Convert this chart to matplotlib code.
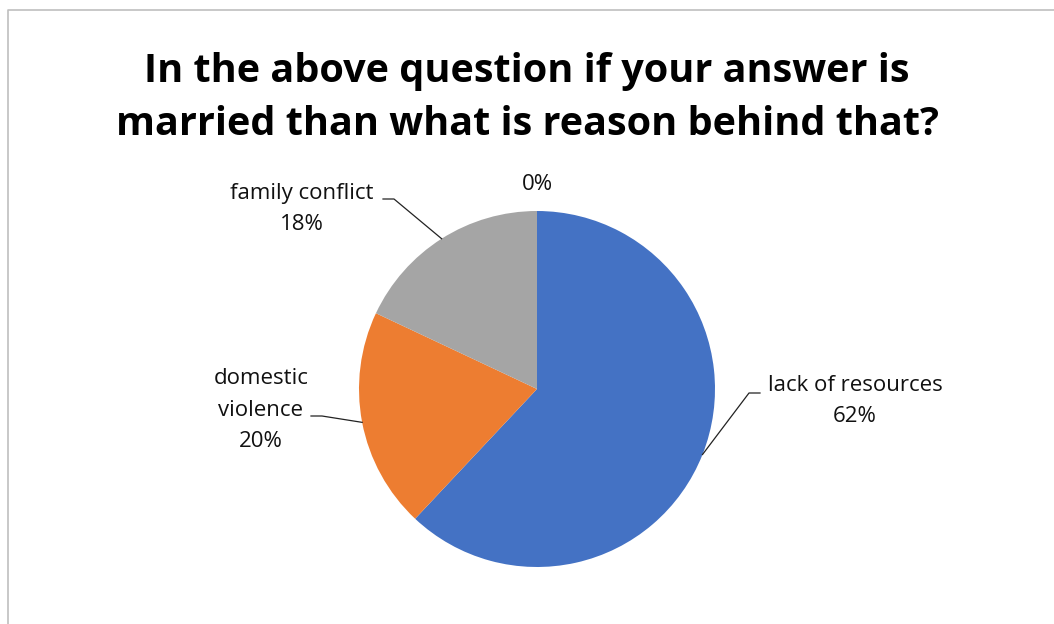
import numpy as np
import matplotlib.pyplot as plt

# Reasons for marriage (share of responses)
labels = ['lack of resources', 'domestic\nviolence', 'family conflict', '']
shares = [62, 20, 18, 0]
colors = ['#4472C4', '#ED7D31', '#A5A5A5', '#FFC000']

title = 'In the above question if your answer is\nmarried than what is reason behind that?'

W, H = 1054, 624
fig = plt.figure(figsize=(W / 100, H / 100), dpi=100)
ax = fig.add_axes([0, 0, 1, 1])
ax.axis('off')

plt.rcParams['font.family'] = ['Open Sans', 'DejaVu Sans']

# chart area border (left and top edges visible)
ax.plot([8, 8, W + 5], [-5, H - 10, H - 10], color='#BFBFBF', lw=1.2)

cx, cy, r = 537, H - 389, 178
wedges, _ = ax.pie(shares, colors=colors, startangle=90, counterclock=False,
                   center=(cx, cy), radius=r, wedgeprops=dict(linewidth=0))
ax.set_xlim(0, W)
ax.set_ylim(0, H)
ax.set_aspect('equal')

ax.text(W / 2, H - 98, title, ha='center', va='center', fontsize=28.5,
        fontweight='bold', linespacing=1.45)

# label placement: text centre, elbow point of leader line
label_pos = [((855, H - 401), (760, H - 393)),
             ((261, H - 410), (311, H - 416)),
             ((302, H - 209), (383, H - 199)),
             ((537, H - 185), None)]

for w, lab, val, (tpos, elbow) in zip(wedges, labels, shares, label_pos):
    txt = f'{lab}\n{val}%' if lab else f'{val}%'
    ax.text(tpos[0], tpos[1], txt, ha='center', va='center', fontsize=16,
            linespacing=1.68, color='#111111')
    if elbow is None:
        continue
    mid = np.deg2rad((w.theta1 + w.theta2) / 2)
    ex, ey = cx + r * np.cos(mid), cy + r * np.sin(mid)
    hx = elbow[0] + 11 if elbow[0] < cx else elbow[0] - 11
    ax.plot([elbow[0], hx, ex], [elbow[1], elbow[1], ey], color='#222222', lw=0.9)

fig.savefig('out.png', dpi=100)
